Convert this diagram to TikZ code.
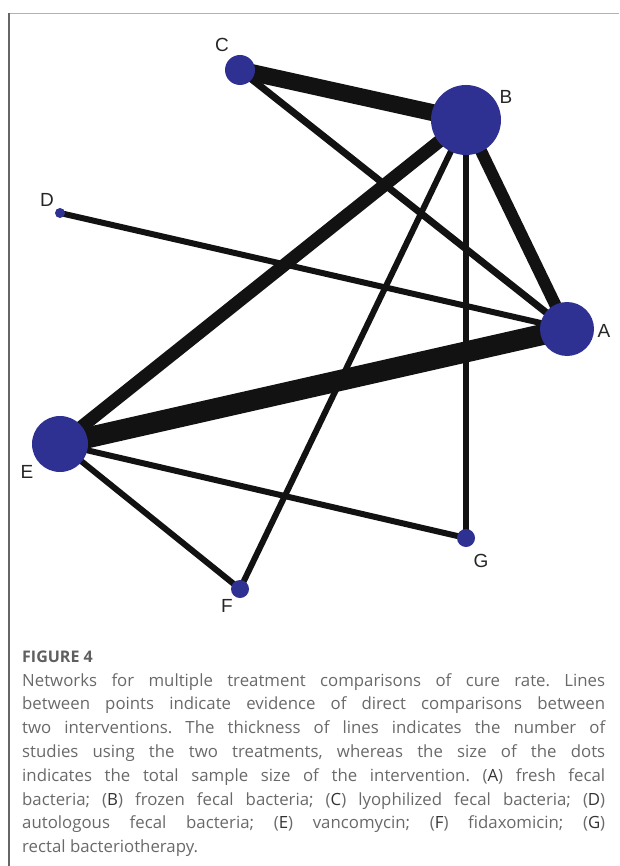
\documentclass[tikz,border=0pt]{standalone}
\usepackage{fontspec}
\setmainfont{Liberation Sans}
\newfontfamily\capfont{Open Sans}
\usepackage{xcolor}
\usetikzlibrary{backgrounds}

\definecolor{dotblue}{RGB}{46,49,146}
\definecolor{capgray}{RGB}{105,105,105}
\newcommand{\capkey}[1]{\textcolor{black!80}{#1}}

\begin{document}
\begin{tikzpicture}[x=1pt,y=-1pt,
        dot/.style={circle,fill=dotblue,inner sep=0pt,minimum size=#1},
        lbl/.style={font=\fontsize{19}{19}\selectfont,text=black!85,inner sep=0pt},
        link/.style={line width=#1,color=black!93}]
        \useasboundingbox (0,0) rectangle (619,866);
        \draw[line width=1.3pt,black!30] (9,13.5)--(619,13.5);
        \draw[line width=1.3pt,black!60] (9,13.5)--(9,866);

        % treatments
        \node[dot=70pt] (B) at (466,120) {};
        \node[dot=30pt] (C) at (240,70) {};
        \node[dot=10pt] (D) at (60,213) {};
        \node[dot=54pt] (A) at (567,329) {};
        \node[dot=56pt] (E) at (60,444) {};
        \node[dot=18pt] (G) at (466,538) {};
        \node[dot=18pt] (F) at (240,589) {};
        \node[lbl] (labA) at (604,331) {A};
        \node[lbl] (labB) at (506,97) {B};
        \node[lbl] (labC) at (222,45) {C};
        \node[lbl] (labD) at (47,200) {D};
        \node[lbl] (labE) at (27,472) {E};
        \node[lbl] (labF) at (227,606) {F};
        \node[lbl] (labG) at (481,561) {G};

        % comparisons
        \begin{pgfonlayer}{background}
        \draw[link=17pt] (C.center)--(B.center);
        \draw[link=7pt] (C.center)--(A.center);
        \draw[link=12pt] (B.center)--(A.center);
        \draw[link=13pt] (B.center)--(E.center);
        \draw[link=6pt] (B.center)--(F.center);
        \draw[link=6pt] (B.center)--(G.center);
        \draw[link=6pt] (D.center)--(A.center);
        \draw[link=21pt] (E.center)--(A.center);
        \draw[link=6pt] (E.center)--(G.center);
        \draw[link=6pt] (E.center)--(F.center);
        \end{pgfonlayer}

        \node[anchor=base west,inner sep=0pt,text=capgray!90!black,
              font=\capfont\bfseries\fontsize{16}{16}\selectfont] (fig) at (22,662) {FIGURE 4};
        \node[anchor=base west,inner sep=0pt,text width=583pt,align=justify,text=capgray,
              font=\capfont\fontsize{16.8}{23.8}\selectfont] (cap) at (22,686)
              {\hyphenpenalty=10000\frenchspacing Networks for multiple treatment comparisons of cure rate. Lines\linebreak
              between points indicate evidence of direct comparisons between\linebreak
              two interventions. The thickness of lines indicates the number of\linebreak
              studies using the two treatments, whereas the size of the dots\linebreak
              indicates the total sample size of the intervention. (\capkey{A}) fresh fecal\linebreak
              bacteria; (\capkey{B}) frozen fecal bacteria; (\capkey{C}) lyophilized fecal bacteria; (\capkey{D})\linebreak
              autologous fecal bacteria; (\capkey{E}) vancomycin; (\capkey{F}) fidaxomicin; (\capkey{G})\linebreak
              rectal bacteriotherapy.};
    \end{tikzpicture}
\end{document}
